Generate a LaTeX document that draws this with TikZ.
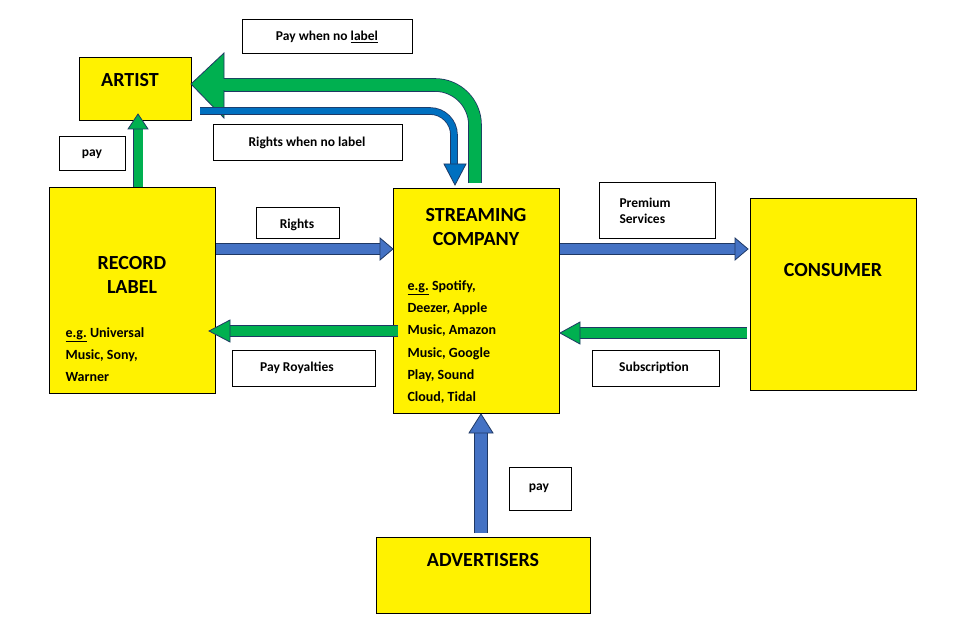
\documentclass[tikz,border=0pt]{standalone}
\usepackage{fontspec}
\setmainfont{Carlito}
\begin{document}
\begin{tikzpicture}[x=1pt,y=-1pt,
 ybox/.style={draw=black,fill=yellow,line width=0.8pt},
 wbox/.style={draw=black,fill=white,line width=0.6pt},
 big/.style={font=\bfseries\fontsize{20}{24}\selectfont,align=center},
 lab/.style={font=\bfseries\fontsize{13.5}{16}\selectfont,align=left},
 gsh/.style={draw=navy,line width=0.8pt,double=agreen},
 bsh/.style={draw=navy,line width=0.8pt,double=ablue},
 ghd/.style={draw=navy,line width=0.8pt,fill=agreen,line join=miter},
 bhd/.style={draw=navy,line width=0.8pt,fill=ablue,line join=miter}]
\definecolor{agreen}{HTML}{00B050}
\definecolor{ablue}{HTML}{4472C4}
\definecolor{bblue}{HTML}{0070C0}
\definecolor{navy}{HTML}{1F3864}
\path[use as bounding box,fill=white] (0,0) rectangle (958,636);
% boxes
\draw[ybox] (79,57) rectangle (191,120);
\node[big] (artist) at (130,80) {ARTIST};
\draw[ybox] (49,187) rectangle (215,393);
\node[big] (label) at (132,275) {RECORD\\LABEL};
\node[lab,font=\bfseries\fontsize{14}{22}\selectfont,anchor=north west] (labeg) at (62,324) {\underline{e.g.} Universal\\Music, Sony,\\Warner};
\draw[ybox] (393,188) rectangle (559,413);
\node[big] (stream) at (476,227) {STREAMING\\COMPANY};
\node[lab,font=\bfseries\fontsize{14}{22.3}\selectfont,anchor=north west] (streg) at (404,277) {\underline{e.g.} Spotify,\\Deezer, Apple\\Music, Amazon\\Music, Google\\Play, Sound\\Cloud, Tidal};
\draw[ybox] (750,198) rectangle (916,390);
\node[big] (cons) at (833,270) {CONSUMER};
\draw[ybox] (376,537) rectangle (590,613);
\node[big] (adv) at (483,560) {ADVERTISERS};
% arrows
\draw[gsh,double distance=9pt] (138,187) -- (138,128);
\draw[ghd] (128,129) -- (138,114) -- (148,129) -- cycle;
\draw[bsh,double distance=10pt] (216,249) -- (380,249);
\draw[bhd] (380,238) -- (393,249) -- (380,260) -- cycle;
\draw[bsh,double distance=10pt] (560,249) -- (735,249);
\draw[bhd] (735,238) -- (748,249) -- (735,260) -- cycle;
\draw[gsh,double distance=10pt] (398,331) -- (230,331);
\draw[ghd] (230,320) -- (209,331) -- (230,342) -- cycle;
\draw[gsh,double distance=10pt] (747,333) -- (580,333);
\draw[ghd] (580,322) -- (560,333) -- (580,344) -- cycle;
\draw[bsh,double distance=12pt] (481,533) -- (481,432);
\draw[bhd] (469,433) -- (481,414) -- (493,433) -- cycle;
\draw[gsh,double distance=12pt] (475,183) -- (475,125) arc[start angle=0,end angle=-90,radius=40] -- (223,85);
\draw[ghd] (224,53) -- (191,84) -- (224,118) -- cycle;
\draw[gsh,draw=agreen,line width=0pt,double distance=11pt] (222,85) -- (226,85);
\draw[draw=navy,line width=0.8pt,double=bblue,double distance=6pt] (200,111) -- (430,111) arc[start angle=-90,end angle=0,radius=24] -- (454,164);
\draw[draw=navy,line width=0.8pt,fill=bblue,line join=miter] (444,164) -- (455,185) -- (466,164) -- cycle;
% labels
\draw[wbox] (242,19) rectangle (412,53);
\node[lab] (t1) at (327,37) {Pay when no \underline{label}};
\draw[wbox] (213,124) rectangle (402,160);
\node[lab] (t2) at (307,143) {Rights when no label};
\draw[wbox] (59,136) rectangle (125,170);
\node[lab] (t3) at (92,154) {pay};
\draw[wbox] (256,207) rectangle (339,238);
\node[lab] (t4) at (297,225) {Rights};
\draw[wbox] (599,182) rectangle (715,238);
\node[lab,anchor=west] (t5) at (616,211) {Premium\\Services};
\draw[wbox] (232,350) rectangle (375,386);
\node[lab] (t6) at (297,368) {Pay Royalties};
\draw[wbox] (592,350) rectangle (719,386);
\node[lab] (t7) at (654,368) {Subscription};
\draw[wbox] (509,467) rectangle (571,510);
\node[lab] (t8) at (539,488) {pay};
\end{tikzpicture}
\end{document}
